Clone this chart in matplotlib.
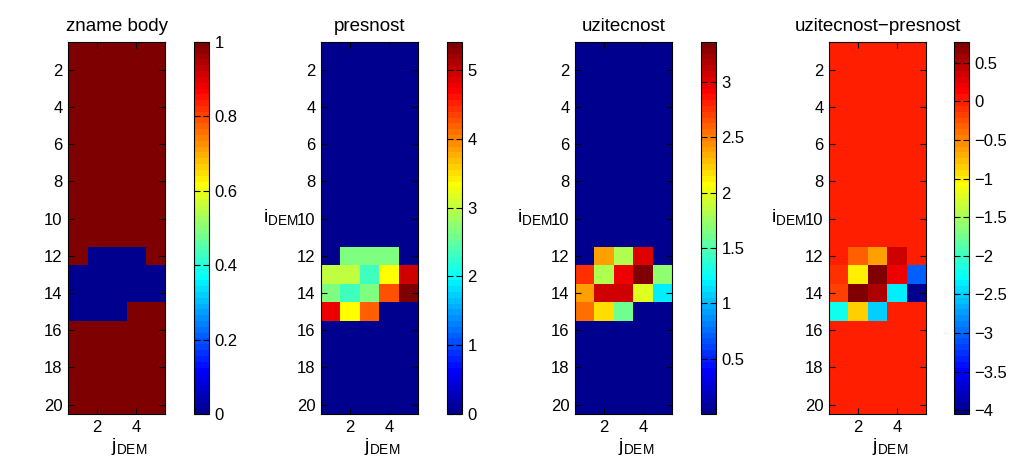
import numpy as np
import matplotlib
matplotlib.use("Agg")
import matplotlib.pyplot as plt
from matplotlib.ticker import FuncFormatter
from matplotlib.colors import ListedColormap

plt.rcParams['font.family'] = ['Liberation Sans', 'DejaVu Sans']
plt.rcParams['mathtext.fontset'] = 'custom'
plt.rcParams['mathtext.rm'] = 'Liberation Sans'
plt.rcParams['mathtext.it'] = 'Liberation Sans'

# ---- data ----
n_rows = 20
n_cols = 5
block_rows = [12, 13, 14, 15]          # rows (1-based) where values differ from background

titles = ["zname body", "presnost", "uzitecnost", "uzitecnost\u2212presnost"]

zname_background = 1
zname_block = [[1, 0, 0, 0, 1],
               [0, 0, 0, 0, 0],
               [0, 0, 0, 0, 0],
               [0, 0, 0, 1, 1]]

presnost_background = 0
presnost_block = [[0.0, 2.65, 2.65, 2.65, 0.0],
                  [3.0, 3.0, 2.35, 3.3, 4.97],
                  [2.7, 2.35, 2.7, 4.3, 5.41],
                  [4.8, 3.3, 4.2, 0.0, 0.0]]

uzitecnost_background = 0
uzitecnost_block = [[0.0, 2.38, 1.83, 3.02, 0.0],
                    [2.77, 1.83, 2.94, 3.36, 1.68],
                    [2.38, 3.09, 3.09, 1.98, 1.18],
                    [2.52, 2.2, 1.58, 0.0, 0.0]]

rozdil_background = 0
rozdil_block = [[0.0, -0.3, -0.63, 0.38, 0.0],
                [-0.1, -0.97, 0.77, 0.17, -3.03],
                [-0.2, 0.75, 0.5, -2.36, -4.05],
                [-2.17, -0.85, -2.5, 0.0, 0.0]]

cbar_ticks = [[0, 0.2, 0.4, 0.6, 0.8, 1],
              [0, 1, 2, 3, 4, 5],
              [0.5, 1, 1.5, 2, 2.5, 3],
              [-4, -3.5, -3, -2.5, -2, -1.5, -1, -0.5, 0, 0.5]]

y_ticks = [2, 4, 6, 8, 10, 12, 14, 16, 18, 20]
x_ticks = [2, 4]


def build(background, block):
    m = np.full((n_rows, n_cols), float(background))
    for r, vals in zip(block_rows, block):
        m[r - 1, :] = vals
    return m


datasets = [build(zname_background, zname_block),
            build(presnost_background, presnost_block),
            build(uzitecnost_background, uzitecnost_block),
            build(rozdil_background, rozdil_block)]


def matlab_jet(m=64):
    n = int(np.ceil(m / 4))
    u = np.concatenate([np.arange(1, n + 1) / n, np.ones(n - 1), np.arange(n, 0, -1) / n])
    g = int(np.ceil(n / 2)) - (1 if m % 4 == 1 else 0) + np.arange(1, len(u) + 1)
    r = g + n
    b = g - n
    J = np.zeros((m, 3))
    for col, idx in ((0, r), (1, g), (2, b)):
        ok = (idx >= 1) & (idx <= m)
        J[idx[ok] - 1, col] = u[ok]
    return ListedColormap(J)


# ---- layout ----
W, H = 1018, 457
fig = plt.figure(figsize=(W / 100, H / 100), dpi=100)
cmap = matlab_jet(64)

ax_lefts = [68, 321, 575, 829]
cb_lefts = [194, 447, 701, 954]
ax_w = 97
cb_w = 15
top_px, bot_px = 42, 414
fs = 12


def fmt(v, pos):
    s = '%g' % v
    return s.replace('-', '\u2212')


for i, data in enumerate(datasets):
    ax = fig.add_axes([ax_lefts[i] / W, 1 - bot_px / H, ax_w / W, (bot_px - top_px) / H])
    im = ax.imshow(data, cmap=cmap, aspect='auto', interpolation='nearest',
                   extent=(0.5, n_cols + 0.5, n_rows + 0.5, 0.5),
                   vmin=data.min(), vmax=data.max())
    ax.set_xticks(x_ticks)
    ax.set_yticks(y_ticks)
    ax.tick_params(direction='in', top=True, right=True, length=4, width=0.8,
                   labelsize=fs, pad=4)
    for s in ax.spines.values():
        s.set_linewidth(0.8)
    ax.set_title(titles[i], fontsize=fs + 1.5, pad=8)
    # x label j_DEM
    ax.text(0.44, -0.058, r'$\mathregular{j_{DEM}}$', transform=ax.transAxes,
            ha='left', va='top', fontsize=fs + 2)
    if i > 0:
        ax.text(-0.60, 0.53, r'$\mathregular{i_{DEM}}$', transform=ax.transAxes,
                ha='left', va='center', fontsize=fs + 2)

    cax = fig.add_axes([cb_lefts[i] / W, 1 - bot_px / H, cb_w / W, (bot_px - top_px) / H])
    cb = fig.colorbar(im, cax=cax)
    cb.set_ticks(cbar_ticks[i])
    cb.ax.yaxis.set_major_formatter(FuncFormatter(fmt))
    cb.ax.tick_params(direction='in', left=True, right=True, length=4, width=0.8,
                      labelsize=fs, pad=4)
    cb.outline.set_linewidth(0.8)

fig.savefig('out.png', dpi=100)
